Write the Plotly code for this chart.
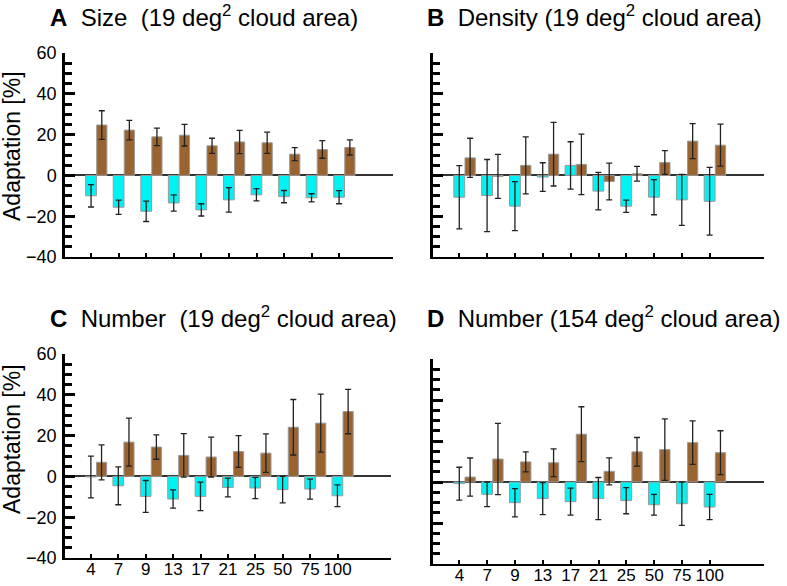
import plotly.graph_objects as go

categories = ["4", "7", "9", "13", "17", "21", "25", "50", "75", "100"]

# Panel A: Size (19 deg2)
a_cyan = [-10.0, -15.6, -17.6, -13.5, -16.9, -12.0, -9.5, -10.4, -11.0, -10.7]
a_cyan_err = [5.5, 3.5, 5.0, 4.0, 3.0, 6.0, 3.0, 3.0, 2.0, 3.2]
a_brown = [24.7, 22.2, 18.9, 19.7, 14.5, 16.4, 16.0, 10.4, 12.7, 13.7]
a_brown_err = [7.0, 4.8, 4.3, 5.3, 3.7, 5.7, 5.2, 3.2, 4.3, 3.7]

# Panel B: Density (19 deg2)
b_cyan = [-10.7, -9.9, -15.1, -0.8, 4.9, -7.7, -15.1, -10.7, -12.0, -12.7]
b_cyan_err = [15.5, 17.7, 12.0, 7.0, 11.6, 9.2, 3.0, 8.6, 12.5, 16.6]
b_brown = [8.6, -0.5, 4.9, 10.4, 5.4, -3.0, 0.8, 6.3, 16.8, 14.8]
b_brown_err = [9.6, 10.8, 14.0, 15.6, 14.8, 9.0, 3.6, 5.8, 8.6, 10.3]

# Panel C: Number (19 deg2)
c_cyan = [-0.3, -4.6, -9.8, -11.1, -9.8, -5.4, -5.7, -6.5, -6.2, -9.5]
c_cyan_err = [10.2, 9.3, 7.8, 4.5, 7.0, 4.6, 5.2, 6.5, 4.9, 5.3]
c_brown = [6.9, 16.8, 14.4, 10.3, 9.5, 12.2, 11.4, 24.1, 26.1, 31.8]
c_brown_err = [8.6, 11.8, 6.0, 10.7, 9.8, 7.8, 9.4, 13.6, 14.2, 10.9]

# Panel D: Number (154 deg2)
d_cyan = [-0.8, -6.0, -10.1, -8.1, -9.6, -8.1, -9.1, -11.1, -10.6, -12.2]
d_cyan_err = [8.0, 6.0, 6.9, 7.8, 6.6, 10.3, 6.4, 5.1, 10.6, 6.2]
d_brown = [2.4, 11.2, 9.8, 9.4, 23.3, 5.2, 14.7, 15.8, 19.2, 14.3]
d_brown_err = [9.3, 17.4, 4.9, 6.8, 13.4, 6.6, 7.0, 15.0, 10.6, 10.7]

panels = [
    (a_cyan, a_cyan_err, a_brown, a_brown_err),
    (b_cyan, b_cyan_err, b_brown, b_brown_err),
    (c_cyan, c_cyan_err, c_brown, c_brown_err),
    (d_cyan, d_cyan_err, d_brown, d_brown_err),
]

W, H = 787, 586
# pixel boxes: (x0, x1, ytop, ybottom)
boxes = [
    (65, 393, 53, 257),
    (433, 764, 53, 257),
    (65, 391, 354, 558),
    (433, 764, 359, 564),
]

CYAN = "#00F2F2"
BROWN = "#9A6431"
FONT = "Liberation Sans, Arial, Helvetica, sans-serif"

fig = go.Figure()
layout_axes = {}
for i, ((cy, cye, br, bre), (x0, x1, yt, yb)) in enumerate(zip(panels, boxes)):
    n = i + 1
    xa = "x" if n == 1 else f"x{n}"
    ya = "y" if n == 1 else f"y{n}"
    fig.add_trace(go.Bar(
        x=categories, y=cy, xaxis=xa, yaxis=ya,
        offset=-0.2, width=0.39,
        marker=dict(color=CYAN, line=dict(color="#9a9a9a", width=1)),
        error_y=dict(type="data", array=cye, color="#222222", thickness=1.3, width=3),
        showlegend=False,
    ))
    fig.add_trace(go.Bar(
        x=categories, y=br, xaxis=xa, yaxis=ya,
        offset=0.2, width=0.37,
        marker=dict(color=BROWN, line=dict(color="#9a9a9a", width=1)),
        error_y=dict(type="data", array=bre, color="#222222", thickness=1.3, width=3),
        showlegend=False,
    ))
    bottom = n in (3, 4)
    left = n in (1, 3)
    xkey = "xaxis" if n == 1 else f"xaxis{n}"
    ykey = "yaxis" if n == 1 else f"yaxis{n}"
    layout_axes[xkey] = dict(
        domain=[x0 / W, x1 / W], anchor=ya, type="category",
        range=[-0.95, 10.95], showgrid=False, zeroline=False,
        showline=True, linecolor="black", linewidth=2,
        ticks="inside", ticklen=4, tickwidth=2, tickcolor="black",
        showticklabels=bottom, automargin=False,
        tickfont=dict(family=FONT, size=17, color="black"),
        ticklabelstandoff=-5,
    )
    layout_axes[ykey] = dict(
        domain=[1 - yb / H, 1 - yt / H], anchor=xa,
        range=[-40, 60], dtick=20, tick0=0, showgrid=False,
        zeroline=True, zerolinecolor="#333333", zerolinewidth=1.5,
        showline=True, linecolor="black", linewidth=2.5,
        ticks="inside", ticklen=10, tickwidth=2.5, tickcolor="black",
        minor=dict(ticks="inside", dtick=5, ticklen=7, tickwidth=2.5, tickcolor="black"),
        showticklabels=left, automargin=False,
        tickfont=dict(family=FONT, size=18, color="black"),
        ticklabelstandoff=2,
    )

titles = [
    ("<b>A</b>  Size  (19 deg<sup>2</sup> cloud area)", 48, 16),
    ("<b>B</b>  Density (19 deg<sup>2</sup> cloud area)", 425, 16),
    ("<b>C</b>  Number  (19 deg<sup>2</sup> cloud area)", 48, 317),
    ("<b>D</b>  Number (154 deg<sup>2</sup> cloud area)", 425, 317),
]
annotations = []
for text, px, py in titles:
    annotations.append(dict(
        text=text, xref="paper", yref="paper", x=px / W, y=1 - py / H,
        xanchor="left", yanchor="middle", showarrow=False,
        font=dict(family=FONT, size=24, color="black"),
    ))
for cy in (146, 439):
    annotations.append(dict(
        text="Adaptation [%]", xref="paper", yref="paper", x=12 / W, y=1 - cy / H,
        xanchor="center", yanchor="middle", showarrow=False, textangle=-90,
        font=dict(family=FONT, size=23, color="black"),
    ))

fig.update_layout(
    width=W, height=H, margin=dict(l=0, r=0, t=0, b=0, pad=0, autoexpand=False),
    paper_bgcolor="white", plot_bgcolor="white",
    barmode="overlay", annotations=annotations,
    **layout_axes,
)

fig.write_html(
    "out.html",
    config={"displayModeBar": False},
    post_script="document.body.style.margin='0';document.body.style.overflow='hidden';",
)
